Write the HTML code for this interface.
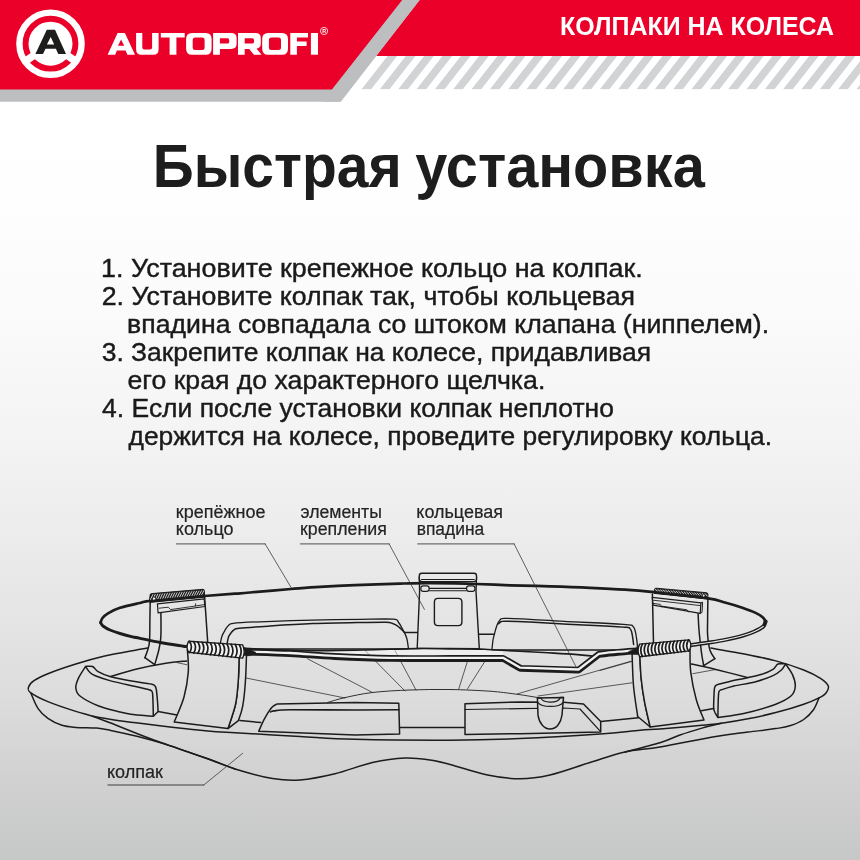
<!DOCTYPE html>
<html lang="ru">
<head>
<meta charset="utf-8">
<title>Быстрая установка</title>
<style>
html,body{margin:0;padding:0;}
body{width:860px;height:860px;overflow:hidden;background:#fff;font-family:"Liberation Sans",sans-serif;}
svg{display:block;position:absolute;left:0;top:0;will-change:transform;}
text{font-family:"Liberation Sans",sans-serif;}
.h1{font-weight:bold;font-size:61.3px;fill:#1d1d1d;}
.b{font-size:25.1px;fill:#1a1a1a;stroke:#1a1a1a;stroke-width:0.4px;}
.lbl{font-size:17.6px;fill:#242424;stroke:#242424;stroke-width:0.2px;}
.cat{font-weight:bold;font-size:25.2px;fill:#fff;}
</style>
</head>
<body>
<svg width="860" height="860" viewBox="0 0 860 860">
<defs>
<linearGradient id="bg" x1="0" y1="0" x2="0" y2="860" gradientUnits="userSpaceOnUse">
<stop offset="0.0000" stop-color="#ffffff"/>
<stop offset="0.1279" stop-color="#ffffff"/>
<stop offset="0.2326" stop-color="#fefefe"/>
<stop offset="0.3488" stop-color="#fbfbfb"/>
<stop offset="0.4651" stop-color="#f6f6f6"/>
<stop offset="0.5814" stop-color="#efefef"/>
<stop offset="0.6744" stop-color="#e8e8e8"/>
<stop offset="0.7384" stop-color="#e3e3e3"/>
<stop offset="0.8140" stop-color="#dcdcdc"/>
<stop offset="0.9070" stop-color="#d1d1d1"/>
<stop offset="1.0000" stop-color="#c6c7c7"/>
</linearGradient>
<pattern id="hatch" width="18.33" height="40" patternUnits="userSpaceOnUse" patternTransform="translate(361.6,89.2) skewX(-38)">
<rect x="0" y="-2" width="9.6" height="44" fill="#d1d3d4"/>
</pattern>
<clipPath id="hclip"><polygon points="360.5,89.2 386.8,55.6 860,55.6 860,89.2"/></clipPath>
</defs>
<rect width="860" height="860" fill="url(#bg)"/>
<!-- header -->
<g id="header">
<rect x="340" y="55.6" width="520" height="34" fill="#fff"/>
<rect x="300" y="55.6" width="560" height="34" fill="url(#hatch)" clip-path="url(#hclip)"/>
<polygon points="0,0 419.6,0 340.6,101.8 0,101.8" fill="#bcbec0"/>
<polygon points="419.6,0 860,0 860,55.9 376.2,55.9" fill="#ea0028"/>
<polygon points="0,0 402.4,0 331.9,89.5 0,89.5" fill="#ea0028"/>
<polygon points="402.4,0 419.6,0 340.6,101.8 323,101.8" fill="#bcbec0"/>
</g>
<!-- logo -->
<g id="logo">
<circle cx="50.5" cy="43.7" r="31.1" fill="none" stroke="#fff" stroke-width="6.4"/>
<circle cx="50.5" cy="43.7" r="22" fill="#fff"/>
<g stroke="#fff" stroke-width="7.4" stroke-linecap="butt">
<line x1="50.5" y1="43.7" x2="25.9" y2="60.9"/>
<line x1="50.5" y1="43.7" x2="75.1" y2="60.9"/>
</g>
<path d="M35.4,53.9 L46.8,29.8 L55.0,29.8 L66.0,53.9 L58.2,53.9 L55.9,48.75 L45.5,48.75 L43.0,53.9 Z M50.7,37.0 L46.9,44.6 L54.2,44.6 Z" fill="#1d1d1b" fill-rule="evenodd"/>
</g>
<g id="wordmark" fill="#fff">
<path d="M107.6,54.7 L117.6,33 L124.9,33 L135.0,54.7 L127.4,54.7 L125.6,50.5 L116.9,50.5 L115.2,54.7 Z M121.1,39.5 L118.0,45.8 L124.2,45.8 Z" fill-rule="evenodd"/>
<path d="M136.1,33 H142.3 V47.6 Q142.3,49.6 144.3,49.6 H150.1 Q152.1,49.6 152.1,47.6 V33 H158.6 V49.2 Q158.6,54.7 153.1,54.7 H141.6 Q136.1,54.7 136.1,49.2 Z"/>
<path d="M160.8,33 H184.7 V37.6 H176.4 V54.7 H169.6 V37.6 H160.8 Z"/>
<path d="M192.1,33 H205.6 Q211.6,33 211.6,39 V48.7 Q211.6,54.7 205.6,54.7 H192.1 Q186.1,54.7 186.1,48.7 V39 Q186.1,33 192.1,33 Z M195.2,37.5 Q192.7,37.5 192.7,40 V47.5 Q192.7,50 195.2,50 H202.1 Q204.6,50 204.6,47.5 V40 Q204.6,37.5 202.1,37.5 Z" fill-rule="evenodd"/>
<path d="M213.1,33 H231 Q236.6,33 236.6,38 V44 Q236.6,48.9 231,48.9 H219.9 V54.7 H213.1 Z M219.9,38.3 V43.6 H227.5 Q229.2,43.6 229.2,42 V40 Q229.2,38.3 227.5,38.3 Z" fill-rule="evenodd"/>
<path d="M238.0,33 H255.4 Q260.8,33 260.8,38 V43.5 Q260.8,48 256.6,48.7 L261.6,54.7 H253.9 L249.2,48.9 H244.7 V54.7 H238.0 Z M244.7,38.3 V43.6 H252.3 Q254,43.6 254,42 V40 Q254,38.3 252.3,38.3 Z" fill-rule="evenodd"/>
<path d="M268.2,33 H282 Q288,33 288,39 V48.7 Q288,54.7 282,54.7 H268.2 Q262.2,54.7 262.2,48.7 V39 Q262.2,33 268.2,33 Z M271.4,37.5 Q268.9,37.5 268.9,40 V47.5 Q268.9,50 271.4,50 H278.5 Q281,50 281,47.5 V40 Q281,37.5 278.5,37.5 Z" fill-rule="evenodd"/>
<path d="M290.3,33 H308 V37.5 H296.9 V41.5 H306.6 V46 H296.9 V54.7 H290.3 Z"/>
<path d="M310.9,33 H318 V54.7 H310.9 Z"/>
<circle cx="324.05" cy="31" r="3.6" fill="none" stroke="#fff" stroke-width="0.8"/>
<text x="322.2" y="33" font-size="5.4" font-weight="bold" fill="#fff">R</text>
</g>
<text class="cat" id="cat" x="559.99" y="34.7" textLength="274.02" lengthAdjust="spacingAndGlyphs">КОЛПАКИ НА КОЛЕСА</text>
<text class="h1" id="t1" x="152.75" y="186.9" textLength="248.90" lengthAdjust="spacingAndGlyphs">Быстрая</text>
<text class="h1" id="t2" x="415.20" y="186.9" textLength="289.60" lengthAdjust="spacingAndGlyphs">установка</text>
<g id="body">
<text class="b" id="l1" x="101.09" y="277.4" textLength="541.61" lengthAdjust="spacingAndGlyphs">1. Установите крепежное кольцо на колпак.</text>
<text class="b" id="l2" x="101.70" y="305.4" textLength="533.40" lengthAdjust="spacingAndGlyphs">2. Установите колпак так, чтобы кольцевая</text>
<text class="b" id="l3" x="127.10" y="333.3" textLength="642.02" lengthAdjust="spacingAndGlyphs">впадина совпадала со штоком клапана (ниппелем).</text>
<text class="b" id="l4" x="101.70" y="361.3" textLength="549.40" lengthAdjust="spacingAndGlyphs">3. Закрепите колпак на колесе, придавливая</text>
<text class="b" id="l5" x="127.50" y="389.2" textLength="417.82" lengthAdjust="spacingAndGlyphs">его края до характерного щелчка.</text>
<text class="b" id="l6" x="102.10" y="417.2" textLength="511.80" lengthAdjust="spacingAndGlyphs">4. Если после установки колпак неплотно</text>
<text class="b" id="l7" x="128.50" y="445.1" textLength="643.60" lengthAdjust="spacingAndGlyphs">держится на колесе, проведите регулировку кольца.</text>
</g>
<g id="labels">
<text class="lbl" id="a1" x="175.88" y="518" textLength="89.62" lengthAdjust="spacingAndGlyphs">крепёжное</text>
<text class="lbl" id="a2" x="175.88" y="535.2" textLength="57.63" lengthAdjust="spacingAndGlyphs">кольцо</text>
<text class="lbl" id="b1" x="300.49" y="518" textLength="81.43" lengthAdjust="spacingAndGlyphs">элементы</text>
<text class="lbl" id="b2" x="299.97" y="535.2" textLength="86.86" lengthAdjust="spacingAndGlyphs">крепления</text>
<text class="lbl" id="c1" x="416.37" y="518" textLength="86.64" lengthAdjust="spacingAndGlyphs">кольцевая</text>
<text class="lbl" id="c2" x="416.68" y="535.2" textLength="67.62" lengthAdjust="spacingAndGlyphs">впадина</text>
<text class="lbl" id="d1" x="107.00" y="777.5" textLength="56.00" lengthAdjust="spacingAndGlyphs">колпак</text>
</g>
<!--DIAGRAM-->
<g id="diagram" stroke-linecap="round" stroke-linejoin="round">
<path d="M150.0,647.5 C148.3,647.8 147.7,647.8 140.0,649.3 C132.3,650.8 114.4,653.8 103.7,656.3 C93.0,658.8 85.1,661.1 75.8,664.0 C66.5,666.9 54.9,670.9 47.9,673.7 C40.9,676.5 37.2,678.5 34.0,680.7 C30.8,682.9 29.2,685.0 28.6,687.0 C28.0,689.0 27.3,690.2 30.5,692.6 C33.7,695.0 40.4,698.5 47.9,701.6 C55.4,704.7 68.3,709.0 75.8,711.4 C83.2,713.8 86.9,714.4 92.6,716.3 C98.3,718.2 100.1,719.0 110.0,722.8 C119.9,726.6 135.6,733.3 151.9,739.3 C168.2,745.3 193.8,753.8 207.7,758.8 C221.5,763.8 230.4,767.3 235.0,769.0" fill="none" stroke="#1c1c1c" stroke-width="1.5" />
<path d="M92.6,716.3 C96.8,717.0 109.8,719.3 117.7,720.5 C125.6,721.7 130.6,722.1 140.0,723.3 C149.4,724.4 162.9,726.1 174.2,727.4 C185.5,728.7 197.6,730.0 207.7,730.9 C217.8,731.8 219.6,731.8 235.0,732.7 C250.4,733.6 280.0,735.4 300.0,736.5 C320.0,737.6 330.0,738.7 355.0,739.3 C380.0,739.9 422.5,740.3 450.0,740.2 C477.5,740.1 495.0,739.6 520.0,738.6 C545.0,737.6 580.0,735.4 600.0,734.0 C620.0,732.6 630.0,731.0 640.0,730.2 C650.0,729.4 649.7,729.8 660.0,729.0 C670.3,728.2 691.7,726.2 701.9,725.3 C712.1,724.3 713.7,724.4 721.4,723.3 C729.1,722.2 738.8,720.6 747.9,718.8 C757.0,717.0 766.5,715.0 775.8,712.6 C785.1,710.2 796.5,706.7 803.7,704.2 C810.9,701.8 815.3,699.8 819.0,697.9 C822.7,696.0 824.5,695.0 826.0,693.0 C827.5,691.0 829.2,688.4 828.3,686.0 C827.4,683.6 824.6,681.1 820.5,678.4 C816.4,675.7 811.2,672.9 803.7,670.0 C796.2,667.1 785.1,663.4 775.8,660.9 C766.5,658.4 757.2,656.6 747.9,654.7 C738.6,652.9 726.1,650.9 720.0,649.8 C713.9,648.7 712.5,648.3 711.0,648.0" fill="none" stroke="#1c1c1c" stroke-width="1.5" />
<path d="M31.0,693.5 C32.2,696.0 35.3,704.5 38.1,708.6 C40.9,712.8 43.9,715.6 47.9,718.4 C51.9,721.2 57.2,723.8 61.9,725.3 C66.5,726.8 70.0,726.9 75.8,727.4 C81.6,727.9 90.9,727.6 96.7,728.1 C102.5,728.6 103.8,729.0 110.7,730.4 C117.6,731.8 128.7,734.2 137.9,736.5 C147.1,738.8 154.2,740.7 165.8,744.4 C177.4,748.1 196.2,754.7 207.7,758.8 C219.2,762.9 224.2,765.7 235.0,769.0 C245.8,772.3 261.7,776.7 272.5,778.5 C283.3,780.3 289.6,780.8 300.0,780.0 C310.4,779.2 322.9,776.7 335.0,773.8 C347.1,770.8 360.8,765.1 372.5,762.5 C384.2,759.9 395.4,758.4 405.0,758.0 C414.6,757.6 422.5,758.9 430.0,760.0 C437.5,761.1 440.4,762.0 450.0,764.5 C459.6,767.0 475.8,772.6 487.5,775.0 C499.2,777.4 509.6,778.8 520.0,778.8 C530.4,778.8 538.3,777.7 550.0,775.0 C561.7,772.3 577.5,766.3 590.0,762.5 C602.5,758.7 613.3,754.6 625.0,752.0 C636.7,749.4 644.9,749.6 660.0,747.0 C675.1,744.4 701.1,739.0 715.8,736.5 C730.4,734.0 737.9,733.4 747.9,732.1 C757.9,730.8 768.8,729.7 775.8,728.6 C782.8,727.5 785.1,727.3 789.8,725.8 C794.4,724.3 799.8,722.2 803.7,719.5 C807.7,716.8 811.0,713.4 813.5,709.8 C816.0,706.2 818.1,699.9 819.0,697.9" fill="none" stroke="#1c1c1c" stroke-width="1.5" />
<path d="M721.4,723.3 C718.1,724.1 708.8,726.1 701.9,728.1 C695.0,730.1 687.0,732.5 680.0,735.0 C673.0,737.5 669.2,740.0 660.0,742.8 C650.8,745.6 630.8,750.5 625.0,752.0" fill="none" stroke="#1c1c1c" stroke-width="1.5" />
<path d="M110.7,676.5 C115.2,675.2 128.7,671.0 137.9,668.8 C147.1,666.6 157.7,664.6 165.8,663.3 C173.9,662.0 183.2,661.3 186.7,660.9" fill="none" stroke="#1c1c1c" stroke-width="1.5" />
<path d="M177.0,662.6 L186.7,664.7" fill="none" stroke="#1c1c1c" stroke-width="0.7" />
<path d="M691.4,664.0 C695.5,664.9 706.1,667.2 715.8,669.5 C725.4,671.8 743.7,676.5 749.3,677.9" fill="none" stroke="#1c1c1c" stroke-width="1.5" />
<path d="M692.8,673.7 L715.8,669.5" fill="none" stroke="#1c1c1c" stroke-width="0.7" />
<path d="M246.0,678.0 L345.0,698.0" fill="none" stroke="#1c1c1c" stroke-width="0.7" />
<path d="M307.5,658.8 L372.5,692.5" fill="none" stroke="#1c1c1c" stroke-width="0.7" />
<path d="M365.0,650.5 L405.0,691.0" fill="none" stroke="#1c1c1c" stroke-width="0.7" />
<path d="M395.0,650.5 L416.0,690.0" fill="none" stroke="#1c1c1c" stroke-width="0.7" />
<path d="M467.5,661.2 L458.8,688.8" fill="none" stroke="#1c1c1c" stroke-width="0.7" />
<path d="M485.0,661.2 L467.5,688.8" fill="none" stroke="#1c1c1c" stroke-width="0.7" />
<path d="M517.5,693.8 L631.0,661.2" fill="none" stroke="#1c1c1c" stroke-width="0.7" />
<path d="M538.0,696.0 L632.0,682.8" fill="none" stroke="#1c1c1c" stroke-width="0.7" />
<path d="M600.0,670.5 L632.1,661.4" fill="none" stroke="#1c1c1c" stroke-width="0.7" />
<path d="M327.5,702.5 C330.4,701.7 337.5,699.3 345.0,697.6 C352.5,695.9 361.7,693.8 372.5,692.5 C383.3,691.2 397.1,690.5 410.0,690.0 C422.9,689.5 436.7,689.3 450.0,689.5 C463.3,689.7 479.2,690.5 490.0,691.2 C500.8,692.0 507.1,693.0 515.0,694.0 C522.9,695.0 533.8,696.9 537.5,697.5" fill="none" stroke="#1c1c1c" stroke-width="0.9" />
<path d="M220.4,643.0 C220.7,641.8 221.3,638.1 222.0,636.0 C222.7,633.9 223.8,632.3 224.8,630.6 C225.8,628.9 226.6,627.2 228.0,626.0 C229.4,624.8 228.0,624.0 233.3,623.3 C238.6,622.6 246.8,622.3 260.0,621.8 C273.2,621.3 296.0,620.5 312.7,620.1 C329.4,619.7 346.6,619.5 360.0,619.4 C373.4,619.2 386.9,618.7 393.3,619.2 C399.7,619.7 396.8,620.5 398.4,622.3 C400.0,624.1 401.6,627.4 403.0,630.0 C404.4,632.6 405.8,634.8 406.7,638.0 C407.6,641.2 408.2,647.2 408.5,649.0 L220.4,649 Z" fill="url(#bg)" stroke="#1c1c1c" stroke-width="1.3" />
<path d="M227.2,643.0 C227.4,642.0 227.9,638.6 228.5,637.0 C229.1,635.4 230.0,634.3 230.9,633.1 C231.8,631.9 232.6,630.6 234.0,629.8 C235.4,629.0 233.4,628.8 239.4,628.2 C245.4,627.6 257.8,626.8 270.0,626.0 C282.2,625.2 297.7,624.2 312.7,623.6 C327.7,623.0 347.8,622.7 360.0,622.5 C372.2,622.3 380.7,622.1 386.0,622.2 C391.3,622.3 390.2,622.7 392.0,623.3 C393.8,623.9 395.5,624.6 397.0,625.6 C398.5,626.6 399.7,627.8 401.0,629.0 C402.3,630.2 404.1,632.0 404.7,632.6" fill="none" stroke="#1c1c1c" stroke-width="1.5" />
<path d="M404.7,632.6 L417.4,632.4" fill="none" stroke="#1c1c1c" stroke-width="1.5" />
<path d="M492.0,649.0 C492.2,647.5 492.6,642.5 493.0,640.0 C493.4,637.5 493.8,636.6 494.4,634.2 C495.0,631.8 496.0,627.8 496.9,625.5 C497.8,623.2 498.3,621.8 499.5,620.6 C500.7,619.4 499.1,618.5 504.2,618.3 C509.3,618.1 519.4,618.8 530.0,619.3 C540.6,619.8 556.0,621.0 567.7,621.6 C579.4,622.2 589.8,622.5 600.0,623.0 C610.2,623.5 623.3,624.3 628.7,624.8 C634.1,625.3 631.5,625.3 632.5,626.0 C633.5,626.7 634.0,627.3 634.6,629.0 C635.2,630.7 635.8,633.4 636.2,636.0 C636.7,638.6 637.1,643.1 637.3,644.5 L637.3,650 L492,650 Z" fill="url(#bg)" stroke="#1c1c1c" stroke-width="1.3" />
<path d="M498.6,623.8 C499.0,623.5 499.9,622.2 501.0,621.8 C502.1,621.4 500.2,621.2 505.0,621.2 C509.8,621.2 519.5,621.5 530.0,622.0 C540.5,622.5 556.0,623.6 567.7,624.2 C579.4,624.8 590.2,625.2 600.0,625.7 C609.8,626.2 621.3,626.8 626.3,627.3 C631.3,627.8 628.9,627.9 629.8,628.5 C630.6,629.1 630.9,629.6 631.4,631.0 C631.9,632.4 632.2,634.8 632.6,637.0 C633.0,639.2 633.4,643.2 633.6,644.5" fill="none" stroke="#1c1c1c" stroke-width="1.5" />
<path d="M479.0,634.2 L494.4,634.2" fill="none" stroke="#1c1c1c" stroke-width="1.5" />
<path d="M419.3,577.0 L419.6,591.4 L417.2,648.2 L479.3,648.6 L476.0,591.4 L476.5,577.0 Z" fill="url(#bg)" stroke="#1c1c1c" stroke-width="1.4" />
<path d="M421.8,573.3 H474.0 Q476.5,573.3 476.5,575.8 V579.1 Q476.5,581.6 474.0,581.6 H421.8 Q419.3,581.6 419.3,579.1 V575.8 Q419.3,573.3 421.8,573.3 Z" fill="url(#bg)" stroke="#1c1c1c" stroke-width="1.4" />
<path d="M421.5,579.5 L474.3,579.5" fill="none" stroke="#1c1c1c" stroke-width="1.0" />
<path d="M423.1,585.9 H426.9 Q429.1,585.9 429.1,588.1 V589.1 Q429.1,591.3 426.9,591.3 H423.1 Q420.9,591.3 420.9,589.1 V588.1 Q420.9,585.9 423.1,585.9 Z" fill="url(#bg)" stroke="#1c1c1c" stroke-width="1.2" />
<path d="M468.8,585.9 H472.7 Q474.9,585.9 474.9,588.1 V589.1 Q474.9,591.3 472.7,591.3 H468.8 Q466.6,591.3 466.6,589.1 V588.1 Q466.6,585.9 468.8,585.9 Z" fill="url(#bg)" stroke="#1c1c1c" stroke-width="1.2" />
<path d="M429.5,588.4 L466.2,588.4" fill="none" stroke="#1c1c1c" stroke-width="1.1" />
<path d="M429.5,590.8 L466.2,590.8" fill="none" stroke="#1c1c1c" stroke-width="1.1" />
<path d="M438.0,598.4 H458.3 Q461.9,598.4 461.9,602.0 V622.0 Q461.9,625.6 458.3,625.6 H438.0 Q434.4,625.6 434.4,622.0 V602.0 Q434.4,598.4 438.0,598.4 Z" fill="none" stroke="#1c1c1c" stroke-width="1.4" />
<path d="M150.3,598.0 L149.5,641.4 L147.7,650.0 L144.9,657.7 L154.7,664.7 L158.8,650.0 L160.7,638.6 L160.9,613.2 L204.9,606.5 L207.7,642.0 L207.7,646.0 L150.3,646.0 Z" fill="url(#bg)" stroke="none" stroke-width="0" />
<path d="M150.3,598.0 C150.2,601.7 150.0,612.8 149.9,620.0 C149.8,627.2 149.9,636.4 149.5,641.4 C149.1,646.4 148.5,647.3 147.7,650.0 C146.9,652.7 145.4,656.4 144.9,657.7" fill="none" stroke="#1c1c1c" stroke-width="1.5" />
<path d="M144.9,657.7 L154.7,664.7" fill="none" stroke="#1c1c1c" stroke-width="1.5" />
<path d="M154.7,664.7 C155.4,662.2 157.8,654.4 158.8,650.0 C159.8,645.6 160.3,642.8 160.7,638.6 C161.1,634.4 161.0,629.2 161.0,625.0 C161.0,620.8 160.9,615.2 160.9,613.2" fill="none" stroke="#1c1c1c" stroke-width="1.5" />
<path d="M204.5,595.3 L207.7,642.0" fill="none" stroke="#1c1c1c" stroke-width="1.5" />
<path d="M157.4,603.9 L204.2,598.8 L204.9,606.5 L158.1,612.8 Z" fill="url(#bg)" stroke="#1c1c1c" stroke-width="1.2" />
<path d="M159.2,608.2 L168.3,607.2 L170.6,609.6 L195.6,606.0 L195.6,603.8" fill="none" stroke="#1c1c1c" stroke-width="0.9" />
<path d="M195.6,606.0 L204.5,604.6" fill="none" stroke="#1c1c1c" stroke-width="0.9" />
<path d="M652.4,594.0 L653.5,646.0 L700.2,646.0 L700.2,642.0 L703.7,665.7 L714.9,658.7 L710.0,650.3 L707.6,635.0 L707.9,596.0 Z" fill="url(#bg)" stroke="none" stroke-width="0" />
<path d="M652.4,594.0 L653.5,643.0" fill="none" stroke="#1c1c1c" stroke-width="1.5" />
<path d="M698.1,612.7 C698.2,615.6 698.6,625.1 699.0,630.0 C699.4,634.9 699.7,637.8 700.2,642.0 C700.7,646.2 701.2,651.0 701.8,655.0 C702.4,659.0 703.4,663.9 703.7,665.7" fill="none" stroke="#1c1c1c" stroke-width="1.5" />
<path d="M703.7,665.7 L714.9,658.7" fill="none" stroke="#1c1c1c" stroke-width="1.5" />
<path d="M707.9,598.0 C707.9,601.7 707.6,613.8 707.6,620.0 C707.6,626.2 707.2,630.0 707.6,635.0 C708.0,640.0 708.8,646.3 710.0,650.3 C711.2,654.2 714.1,657.3 714.9,658.7" fill="none" stroke="#1c1c1c" stroke-width="1.5" />
<path d="M652.2,597.3 L700.9,602.9 L700.2,613.4 L653.3,605.2 Z" fill="url(#bg)" stroke="#1c1c1c" stroke-width="1.2" />
<path d="M653.0,600.2 L700.6,605.6" fill="none" stroke="#1c1c1c" stroke-width="0.9" />
<path d="M653.2,603.4 L660.3,604.4 L661.9,607.0" fill="none" stroke="#1c1c1c" stroke-width="0.9" />
<path d="M661.9,606.2 L687.0,609.8 L688.4,612.0" fill="none" stroke="#1c1c1c" stroke-width="0.9" />
<path d="M700.9,602.9 L702.6,602.2 L702.0,612.4 L700.2,613.4" fill="none" stroke="#1c1c1c" stroke-width="1.0" />
<path d="M100.6,622.5 C100.9,621.8 101.3,619.5 102.5,618.0 C103.7,616.5 105.1,615.0 108.0,613.3 C110.9,611.6 114.7,609.5 120.0,607.8 C125.3,606.1 134.7,604.2 140.0,603.0 C145.3,601.8 141.2,601.8 152.0,600.6 C162.8,599.4 190.7,597.1 204.5,596.0 C218.3,594.9 227.4,594.3 235.0,593.7 C242.6,593.1 240.7,593.3 250.0,592.5 C259.3,591.7 279.3,589.9 291.0,589.0 C302.7,588.1 309.3,587.5 320.0,586.9 C330.7,586.2 341.7,585.6 355.0,585.1 C368.3,584.6 387.2,583.9 400.0,583.6 C412.8,583.3 419.3,583.1 432.0,583.2 C444.7,583.3 463.0,583.6 476.0,584.0 C489.0,584.4 497.7,584.9 510.0,585.3 C522.3,585.7 536.7,585.9 550.0,586.3 C563.3,586.7 577.5,587.2 590.0,587.8 C602.5,588.4 614.3,589.0 625.0,589.7 C635.7,590.4 640.4,590.8 654.2,592.2 C668.0,593.7 696.2,596.7 708.0,598.4 C719.8,600.1 719.2,601.0 724.9,602.5 C730.6,604.0 737.3,606.0 742.3,607.7 C747.3,609.4 751.7,611.0 755.1,612.6 C758.5,614.2 761.0,615.7 762.7,617.2 C764.5,618.7 765.1,620.8 765.6,621.5" fill="none" stroke="#1c1c1c" stroke-width="2.7" />
<path d="M150.0,602.4 L204.5,597.2 L204.5,590.9 Q204.5,589.4 203.0,589.3 L151.5,593.6 Q150.0,593.6 150.0,595.1 Z" fill="#1c1c1c" stroke="#1c1c1c" stroke-width="1.0" />
<path d="M150.6,599.4 L152.8,594.6" fill="none" stroke="#f2f2f2" stroke-width="0.85" />
<path d="M153.0,599.2 L155.2,594.4" fill="none" stroke="#f2f2f2" stroke-width="0.85" />
<path d="M155.5,599.0 L157.7,594.2" fill="none" stroke="#f2f2f2" stroke-width="0.85" />
<path d="M157.9,598.7 L160.1,594.0" fill="none" stroke="#f2f2f2" stroke-width="0.85" />
<path d="M160.3,598.5 L162.5,593.8" fill="none" stroke="#f2f2f2" stroke-width="0.85" />
<path d="M162.8,598.3 L165.0,593.6" fill="none" stroke="#f2f2f2" stroke-width="0.85" />
<path d="M165.2,598.0 L167.4,593.4" fill="none" stroke="#f2f2f2" stroke-width="0.85" />
<path d="M167.6,597.8 L169.8,593.3" fill="none" stroke="#f2f2f2" stroke-width="0.85" />
<path d="M170.1,597.6 L172.3,593.1" fill="none" stroke="#f2f2f2" stroke-width="0.85" />
<path d="M172.5,597.3 L174.7,592.9" fill="none" stroke="#f2f2f2" stroke-width="0.85" />
<path d="M174.9,597.1 L177.1,592.7" fill="none" stroke="#f2f2f2" stroke-width="0.85" />
<path d="M177.4,596.9 L179.6,592.5" fill="none" stroke="#f2f2f2" stroke-width="0.85" />
<path d="M179.8,596.7 L182.0,592.3" fill="none" stroke="#f2f2f2" stroke-width="0.85" />
<path d="M182.2,596.4 L184.4,592.1" fill="none" stroke="#f2f2f2" stroke-width="0.85" />
<path d="M184.7,596.2 L186.9,591.9" fill="none" stroke="#f2f2f2" stroke-width="0.85" />
<path d="M187.1,596.0 L189.3,591.8" fill="none" stroke="#f2f2f2" stroke-width="0.85" />
<path d="M189.5,595.7 L191.7,591.6" fill="none" stroke="#f2f2f2" stroke-width="0.85" />
<path d="M192.0,595.5 L194.2,591.4" fill="none" stroke="#f2f2f2" stroke-width="0.85" />
<path d="M194.4,595.3 L196.6,591.2" fill="none" stroke="#f2f2f2" stroke-width="0.85" />
<path d="M196.8,595.0 L199.0,591.0" fill="none" stroke="#f2f2f2" stroke-width="0.85" />
<path d="M199.3,594.8 L201.5,590.8" fill="none" stroke="#f2f2f2" stroke-width="0.85" />
<path d="M201.7,594.6 L203.9,590.6" fill="none" stroke="#f2f2f2" stroke-width="0.85" />
<path d="M153.9,598.6 m-1.7,0 a1.7,1.7 0 1,0 3.4,0 a1.7,1.7 0 1,0 -3.4,0" fill="#f2f2f2" stroke="#1c1c1c" stroke-width="0.9" />
<path d="M654.4,593.4 L707.9,599.0 L707.9,594.3 Q707.9,592.8 706.4,592.7 L655.9,588.2 Q654.4,588.2 654.4,589.7 Z" fill="#1c1c1c" stroke="#1c1c1c" stroke-width="1.0" />
<path d="M657.2,590.8 L655.2,589.5" fill="none" stroke="#f2f2f2" stroke-width="0.85" />
<path d="M659.9,591.1 L657.9,589.7" fill="none" stroke="#f2f2f2" stroke-width="0.85" />
<path d="M662.5,591.3 L660.5,589.9" fill="none" stroke="#f2f2f2" stroke-width="0.85" />
<path d="M665.1,591.6 L663.1,590.1" fill="none" stroke="#f2f2f2" stroke-width="0.85" />
<path d="M667.7,591.9 L665.7,590.4" fill="none" stroke="#f2f2f2" stroke-width="0.85" />
<path d="M670.3,592.2 L668.3,590.6" fill="none" stroke="#f2f2f2" stroke-width="0.85" />
<path d="M673.0,592.4 L671.0,590.8" fill="none" stroke="#f2f2f2" stroke-width="0.85" />
<path d="M675.6,592.7 L673.6,591.0" fill="none" stroke="#f2f2f2" stroke-width="0.85" />
<path d="M678.2,593.0 L676.2,591.3" fill="none" stroke="#f2f2f2" stroke-width="0.85" />
<path d="M680.8,593.3 L678.8,591.5" fill="none" stroke="#f2f2f2" stroke-width="0.85" />
<path d="M683.5,593.5 L681.5,591.7" fill="none" stroke="#f2f2f2" stroke-width="0.85" />
<path d="M686.1,593.8 L684.1,591.9" fill="none" stroke="#f2f2f2" stroke-width="0.85" />
<path d="M688.7,594.1 L686.7,592.2" fill="none" stroke="#f2f2f2" stroke-width="0.85" />
<path d="M691.3,594.4 L689.3,592.4" fill="none" stroke="#f2f2f2" stroke-width="0.85" />
<path d="M694.0,594.6 L692.0,592.6" fill="none" stroke="#f2f2f2" stroke-width="0.85" />
<path d="M696.6,594.9 L694.6,592.8" fill="none" stroke="#f2f2f2" stroke-width="0.85" />
<path d="M699.2,595.2 L697.2,593.1" fill="none" stroke="#f2f2f2" stroke-width="0.85" />
<path d="M701.8,595.5 L699.8,593.3" fill="none" stroke="#f2f2f2" stroke-width="0.85" />
<path d="M704.4,595.7 L702.4,593.5" fill="none" stroke="#f2f2f2" stroke-width="0.85" />
<path d="M707.1,596.0 L705.1,593.7" fill="none" stroke="#f2f2f2" stroke-width="0.85" />
<path d="M703.6,595.6 m-1.4,0 a1.4,1.4 0 1,0 2.8,0 a1.4,1.4 0 1,0 -2.8,0" fill="#f2f2f2" stroke="#1c1c1c" stroke-width="0.8" />
<path d="M244.0,648.2 C248.3,648.4 259.0,649.2 270.0,649.6 C281.0,650.0 294.2,650.7 310.0,650.8 C325.8,650.9 347.2,650.4 365.0,650.0 C382.8,649.6 402.8,648.8 417.0,648.6 C431.2,648.4 439.5,648.8 450.0,648.9 C460.5,649.0 473.0,649.0 480.0,649.1 C487.0,649.2 490.0,649.7 492.0,649.8 L503,650.3 L503,655.2 C503.0,655.2 511.8,655.1 503.0,655.1 C494.2,655.1 468.8,655.2 450.0,655.2 C431.2,655.2 409.2,655.4 390.0,655.1 C370.8,654.8 351.7,654.0 335.0,653.2 C318.3,652.4 305.3,651.1 290.0,650.3 C274.7,649.6 250.8,649.0 243.0,648.7 Z" fill="#ffffff" stroke="none" stroke-width="0" fill-opacity="0.45"/>
<path d="M244.0,648.2 C248.3,648.4 259.0,649.2 270.0,649.6 C281.0,650.0 294.2,650.7 310.0,650.8 C325.8,650.9 347.2,650.4 365.0,650.0 C382.8,649.6 402.8,648.8 417.0,648.6 C431.2,648.4 439.5,648.8 450.0,648.9 C460.5,649.0 473.0,649.0 480.0,649.1 C487.0,649.2 481.4,649.2 492.0,649.8 C502.6,650.4 529.5,651.7 543.3,652.5 C557.1,653.3 566.9,653.8 575.0,654.4 C583.1,655.0 589.2,655.7 592.0,656.0" fill="none" stroke="#1c1c1c" stroke-width="1.6" />
<path d="M85.6,666.5 C86.8,666.5 90.5,665.6 92.6,666.5 C94.7,667.4 95.1,669.9 98.1,671.6 C101.1,673.3 104.1,675.0 110.7,676.7 C117.3,678.5 131.0,680.9 137.9,682.1 C144.8,683.4 149.1,683.6 151.9,684.2 C154.8,684.9 154.3,685.1 155.0,686.0 C155.7,686.9 155.9,687.2 156.3,689.5 C156.7,691.8 157.1,696.4 157.4,700.0 C157.7,703.6 158.0,709.5 158.1,711.4 L153.3,716.3 C149.6,715.9 136.8,715.0 130.9,714.2 C125.0,713.4 123.2,712.8 117.7,711.4 C112.2,710.0 104.4,708.4 98.1,705.8 C91.8,703.2 83.7,699.0 80.0,696.0 C76.3,693.0 76.0,690.7 75.8,687.7 C75.6,684.7 77.0,681.4 78.6,677.9 C80.2,674.4 84.4,668.4 85.6,666.5 Z" fill="url(#bg)" stroke="#1c1c1c" stroke-width="1.5" />
<path d="M85.6,666.5 C86.3,667.5 88.2,670.8 89.8,672.3 C91.4,673.8 91.8,674.4 95.3,675.8 C98.8,677.2 103.6,679.0 110.7,680.9 C117.8,682.8 131.5,685.5 137.9,687.0 C144.3,688.5 146.8,689.1 149.1,689.8 C151.4,690.5 151.0,690.4 151.6,691.0 C152.2,691.6 152.3,691.3 152.6,693.6 C152.8,695.9 153.0,701.3 153.1,705.0 C153.2,708.7 153.3,714.2 153.3,716.0" fill="none" stroke="#1c1c1c" stroke-width="1.5" />
<path d="M158.1,711.4 L177.0,714.9" fill="none" stroke="#1c1c1c" stroke-width="1.5" />
<path d="M785.6,664.0 C784.3,664.0 780.0,663.1 777.9,664.0 C775.8,664.9 775.7,667.6 773.0,669.3 C770.3,671.0 766.1,672.8 761.9,674.2 C757.7,675.6 753.2,676.5 747.9,677.7 C742.5,678.9 734.7,680.3 729.8,681.4 C724.9,682.5 721.0,683.5 718.6,684.2 C716.2,684.9 716.3,685.0 715.6,685.8 C714.9,686.6 714.7,686.4 714.4,688.8 C714.1,691.2 713.9,696.7 713.8,700.0 C713.7,703.3 713.5,706.5 713.7,708.6 C713.9,710.7 714.9,712.1 715.1,712.8 L717.9,717.5 C722.2,716.8 734.1,715.7 743.7,713.5 C753.4,711.3 767.9,707.2 775.8,704.2 C783.7,701.2 788.0,698.8 791.2,695.8 C794.5,692.8 795.1,689.5 795.3,686.0 C795.5,682.5 794.2,678.6 792.6,674.9 C791.0,671.2 786.8,665.8 785.6,664.0 Z" fill="url(#bg)" stroke="#1c1c1c" stroke-width="1.5" />
<path d="M785.6,664.0 C784.9,665.0 783.5,668.1 781.4,670.0 C779.3,671.9 777.4,673.6 773.0,675.6 C768.6,677.6 761.4,680.2 754.9,681.9 C748.4,683.6 739.6,684.7 734.0,686.0 C728.4,687.3 723.8,689.0 721.4,689.8 C719.0,690.6 719.9,690.4 719.4,691.0 C718.9,691.6 718.8,691.3 718.6,693.6 C718.4,695.9 718.2,701.1 718.1,705.0 C718.0,708.9 717.9,715.0 717.9,717.0" fill="none" stroke="#1c1c1c" stroke-width="1.5" />
<path d="M701.2,710.7 L713.7,708.6" fill="none" stroke="#1c1c1c" stroke-width="1.5" />
<path d="M258.7,731.3 C259.6,729.3 262.2,723.0 264.3,719.1 C266.4,715.2 269.2,710.4 271.3,707.9 C273.4,705.4 276.0,704.6 276.9,704.0 L355,702.6 L398.8,703.3 L399.6,734 L355,735.1 Z" fill="url(#bg)" stroke="#1c1c1c" stroke-width="1.5" />
<path d="M270.6,712.0 C271.2,711.8 270.6,711.3 274.0,710.9 C277.4,710.5 277.3,709.9 290.8,709.7 C304.3,709.6 337.0,710.0 355.0,710.0 C373.0,710.0 391.5,709.8 398.8,709.8" fill="none" stroke="#1c1c1c" stroke-width="1.6" />
<path d="M239.9,720.5 L260.8,722.6" fill="none" stroke="#1c1c1c" stroke-width="1.5" />
<path d="M399.6,727.5 L465.0,727.5" fill="none" stroke="#1c1c1c" stroke-width="1.5" />
<path d="M465,703.7 L520,701.9 L563.5,702.3 L583.5,704 L600.7,721.6 L600.7,732 L520,733.7 L465,734.5 Z" fill="url(#bg)" stroke="#1c1c1c" stroke-width="1.5" />
<path d="M465.0,709.5 L520.0,708.6 L563.5,708.0 L580.0,709.0 L600.4,731.4" fill="none" stroke="#1c1c1c" stroke-width="1.2" />
<path d="M600.7,721.6 L638.6,717.7" fill="none" stroke="#1c1c1c" stroke-width="1.5" />
<path d="M537.4,697.9 L538,715 C539,723 544,729 550,729.1 C556.5,729 561,723 562,715 L563.5,697.4 Z" fill="url(#bg)" stroke="#1c1c1c" stroke-width="1.5" />
<path d="M537.4,697.9 L540.9,697.9 C543,703.5 558,703.5 560.5,697.4 L563.5,697.4" fill="none" stroke="#1c1c1c" stroke-width="1.2" />
<path d="M537.8,702.3 C542,707.8 559,707.8 563.2,702.3" fill="none" stroke="#1c1c1c" stroke-width="1.2" />
<path d="M100.6,622.5 C101.0,623.1 101.4,624.8 103.0,626.0 C104.6,627.2 107.2,628.8 110.0,630.0 C112.8,631.2 116.2,632.4 120.0,633.5 C123.8,634.6 129.2,636.0 132.5,636.8 C135.8,637.6 135.4,637.3 140.0,638.3 C144.6,639.2 152.3,641.1 160.0,642.5 C167.7,643.9 181.7,645.8 186.0,646.5" fill="none" stroke="#1c1c1c" stroke-width="2.9" />
<path d="M765.6,621.5 C765.2,622.3 765.0,624.9 763.3,626.5 C761.5,628.1 758.6,629.7 755.1,631.2 C751.6,632.8 747.3,634.3 742.3,635.8 C737.3,637.2 730.7,638.7 724.9,639.9 C719.1,641.1 713.2,641.9 707.4,642.8 C701.6,643.7 692.9,644.9 690.0,645.3" fill="none" stroke="#1c1c1c" stroke-width="4.0" />
<path d="M763.3,626.5 C761.9,627.3 758.6,629.7 755.1,631.2 C751.6,632.8 747.3,634.3 742.3,635.8 C737.3,637.2 730.7,638.7 724.9,639.9 C719.1,641.1 713.2,641.9 707.4,642.8 C701.6,643.7 692.9,644.9 690.0,645.3" fill="none" stroke="#ebebeb" stroke-width="1.1" />
<path d="M243.0,652.0 C250.8,652.3 274.7,652.9 290.0,653.6 C305.3,654.4 318.3,655.7 335.0,656.5 C351.7,657.3 370.8,658.1 390.0,658.4 C409.2,658.7 431.2,658.5 450.0,658.5 C468.8,658.5 494.2,658.4 503.0,658.4 L520.3,668.3 L578.5,670.1 L598.8,654.4 C602.0,654.0 611.1,652.9 618.0,652.3 C624.9,651.7 636.3,651.0 640.0,650.7" fill="none" stroke="#1c1c1c" stroke-width="6.8" />
<path d="M243.0,652.0 C250.8,652.3 274.7,652.9 290.0,653.6 C305.3,654.4 318.3,655.7 335.0,656.5 C351.7,657.3 370.8,658.1 390.0,658.4 C409.2,658.7 431.2,658.5 450.0,658.5 C468.8,658.5 494.2,658.4 503.0,658.4 L520.3,668.3 L578.5,670.1 L598.8,654.4 C602.0,654.0 611.1,652.9 618.0,652.3 C624.9,651.7 636.3,651.0 640.0,650.7" fill="none" stroke="#f1f1f1" stroke-width="2.3" transform="translate(0,-0.6)"/>
<path d="M244,647.8 L244,656.0 L250,655.6 L256,652.4 L250,649.4 Z" fill="#1c1c1c" stroke="#1c1c1c" stroke-width="0.5" />
<path d="M638.5,647.4 L638.5,655.0 L633,654.6 L628,652.0 L633,649.4 Z" fill="#1c1c1c" stroke="#1c1c1c" stroke-width="0.5" />
<path d="M239.1,655.0 C239.0,659.0 239.0,670.6 238.4,678.8 C237.8,687.0 237.3,695.7 235.6,704.0 C233.8,712.3 229.2,724.5 227.9,728.6 L238.4,720.7 C239.1,718.4 241.4,713.0 242.6,706.7 C243.8,700.4 244.7,691.6 245.3,683.0 C246.0,674.4 246.3,659.7 246.5,655.0 Z" fill="url(#bg)" stroke="#1c1c1c" stroke-width="1.5" />
<path d="M187.4,650.0 C187.6,653.6 188.9,664.1 188.3,671.9 C187.7,679.7 186.3,688.6 184.0,697.0 C181.7,705.4 175.8,717.9 174.2,722.1 L227.9,728.6 C229.2,724.5 233.8,712.3 235.6,704.0 C237.3,695.7 237.8,687.0 238.4,678.8 C239.0,670.6 239.0,659.0 239.1,655.0 Z" fill="url(#bg)" stroke="#1c1c1c" stroke-width="1.5" />
<path d="M188.6,641.3 L242.6,644.9 Q245.8,651.5 242.6,658.1 L188.6,652.3 Q185.4,646.8 188.6,641.3 Z" fill="#f3f3f3" stroke="#1c1c1c" stroke-width="1.4" />
<path d="M189.5,641.4 Q193.3,647.0 189.5,652.5" fill="none" stroke="#1c1c1c" stroke-width="1.7" />
<path d="M193.7,641.7 Q197.4,647.3 193.7,653.0" fill="none" stroke="#1c1c1c" stroke-width="1.7" />
<path d="M197.8,642.0 Q201.6,647.7 197.8,653.4" fill="none" stroke="#1c1c1c" stroke-width="1.7" />
<path d="M202.0,642.3 Q205.7,648.1 202.0,653.9" fill="none" stroke="#1c1c1c" stroke-width="1.7" />
<path d="M206.1,642.5 Q209.9,648.4 206.1,654.3" fill="none" stroke="#1c1c1c" stroke-width="1.7" />
<path d="M210.3,642.8 Q214.0,648.8 210.3,654.8" fill="none" stroke="#1c1c1c" stroke-width="1.7" />
<path d="M214.4,643.1 Q218.2,649.1 214.4,655.2" fill="none" stroke="#1c1c1c" stroke-width="1.7" />
<path d="M218.6,643.4 Q222.4,649.5 218.6,655.6" fill="none" stroke="#1c1c1c" stroke-width="1.7" />
<path d="M222.7,643.7 Q226.5,649.9 222.7,656.1" fill="none" stroke="#1c1c1c" stroke-width="1.7" />
<path d="M226.9,643.9 Q230.7,650.2 226.9,656.5" fill="none" stroke="#1c1c1c" stroke-width="1.7" />
<path d="M231.0,644.2 Q234.8,650.6 231.0,657.0" fill="none" stroke="#1c1c1c" stroke-width="1.7" />
<path d="M235.2,644.5 Q239.0,651.0 235.2,657.4" fill="none" stroke="#1c1c1c" stroke-width="1.7" />
<path d="M239.4,644.8 Q243.1,651.3 239.4,657.9" fill="none" stroke="#1c1c1c" stroke-width="1.7" />
<path d="M639.8,654.0 C640.0,658.1 640.4,670.7 641.2,678.8 C642.0,686.9 643.2,694.6 644.7,702.6 C646.2,710.6 649.3,722.9 650.2,727.0 L637.7,716.5 C637.0,711.4 634.4,696.2 633.5,685.8 C632.6,675.4 632.3,659.3 632.1,654.0 Z" fill="url(#bg)" stroke="#1c1c1c" stroke-width="1.5" />
<path d="M639.8,654.0 C640.0,658.1 640.4,670.7 641.2,678.8 C642.0,686.9 643.2,694.6 644.7,702.6 C646.2,710.6 649.3,722.9 650.2,727.0 L704,720 C702.7,716.6 698.5,707.8 696.3,699.8 C694.1,691.8 691.8,680.4 690.7,671.9 C689.7,663.4 690.1,652.8 690.0,649.0 Z" fill="url(#bg)" stroke="#1c1c1c" stroke-width="1.5" />
<path d="M639.6,644.1 L689.2,639.9 Q692.4,645.4 689.2,650.9 L639.6,656.7 Q636.4,650.4 639.6,644.1 Z" fill="#f3f3f3" stroke="#1c1c1c" stroke-width="1.4" />
<path d="M642.5,643.9 Q639.0,650.2 642.5,656.5" fill="none" stroke="#1c1c1c" stroke-width="1.7" />
<path d="M646.0,643.6 Q642.5,649.9 646.0,656.1" fill="none" stroke="#1c1c1c" stroke-width="1.7" />
<path d="M649.5,643.4 Q646.1,649.5 649.5,655.7" fill="none" stroke="#1c1c1c" stroke-width="1.7" />
<path d="M653.1,643.0 Q649.6,649.1 653.1,655.2" fill="none" stroke="#1c1c1c" stroke-width="1.7" />
<path d="M656.6,642.8 Q653.1,648.8 656.6,654.8" fill="none" stroke="#1c1c1c" stroke-width="1.7" />
<path d="M660.2,642.5 Q656.7,648.4 660.2,654.4" fill="none" stroke="#1c1c1c" stroke-width="1.7" />
<path d="M663.7,642.1 Q660.2,648.1 663.7,654.0" fill="none" stroke="#1c1c1c" stroke-width="1.7" />
<path d="M667.3,641.8 Q663.8,647.7 667.3,653.6" fill="none" stroke="#1c1c1c" stroke-width="1.7" />
<path d="M670.8,641.5 Q667.3,647.4 670.8,653.2" fill="none" stroke="#1c1c1c" stroke-width="1.7" />
<path d="M674.3,641.2 Q670.9,647.0 674.3,652.8" fill="none" stroke="#1c1c1c" stroke-width="1.7" />
<path d="M677.9,640.9 Q674.4,646.6 677.9,652.4" fill="none" stroke="#1c1c1c" stroke-width="1.7" />
<path d="M681.4,640.6 Q677.9,646.3 681.4,651.9" fill="none" stroke="#1c1c1c" stroke-width="1.7" />
<path d="M685.0,640.4 Q681.5,645.9 685.0,651.5" fill="none" stroke="#1c1c1c" stroke-width="1.7" />
<path d="M688.5,640.0 Q685.0,645.6 688.5,651.1" fill="none" stroke="#1c1c1c" stroke-width="1.7" />
<path d="M176.5,543.9 L265.1,543.9" fill="none" stroke="#6f6f6f" stroke-width="1.3" />
<path d="M265.1,543.9 L291.4,588.0" fill="none" stroke="#333" stroke-width="0.75" />
<path d="M300.4,543.9 L389.1,543.9" fill="none" stroke="#6f6f6f" stroke-width="1.3" />
<path d="M389.1,543.9 L424.4,609.4" fill="none" stroke="#333" stroke-width="0.75" />
<path d="M417.8,543.9 L514.1,543.9" fill="none" stroke="#6f6f6f" stroke-width="1.3" />
<path d="M514.1,543.9 L576.2,667.2" fill="none" stroke="#333" stroke-width="0.75" />
<path d="M108.0,785.0 L203.8,785.0" fill="none" stroke="#6f6f6f" stroke-width="1.3" />
<path d="M203.8,785.0 L242.7,753.3" fill="none" stroke="#333" stroke-width="0.75" />
</g>
<!--/DIAGRAM-->
</svg>
</body>
</html>
